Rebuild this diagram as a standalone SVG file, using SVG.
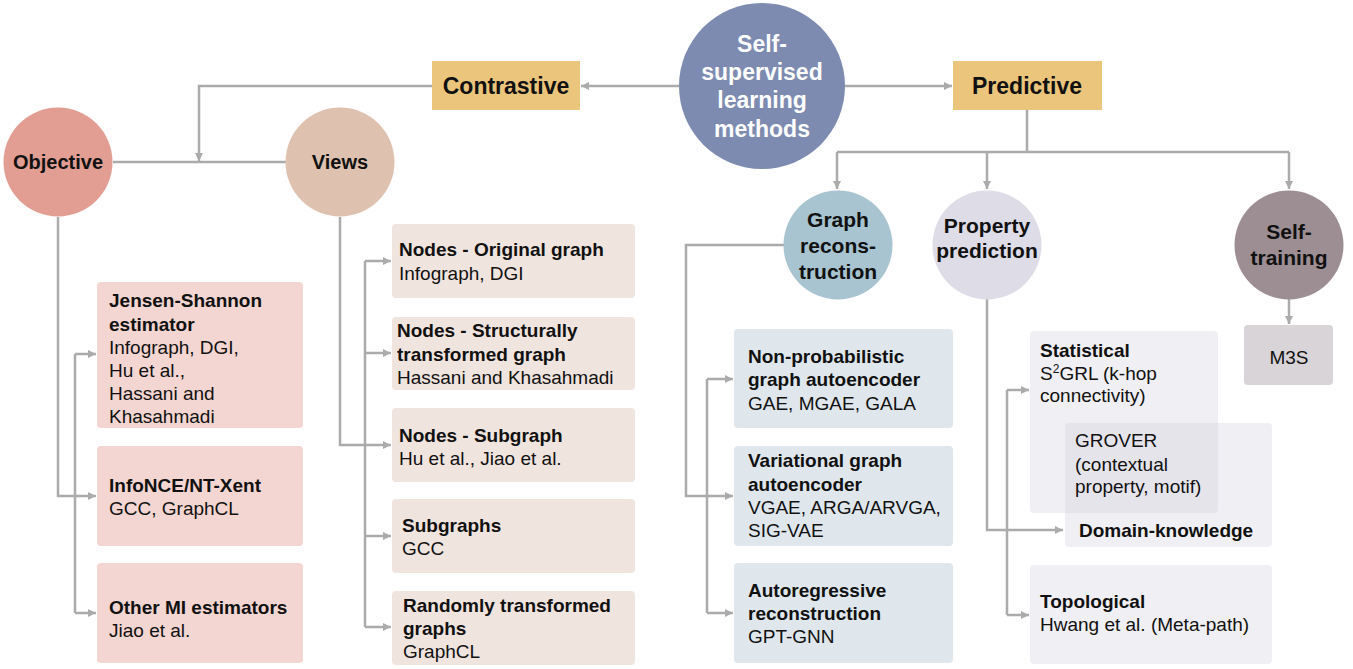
<svg xmlns="http://www.w3.org/2000/svg" width="1353" height="669" viewBox="0 0 1353 669">
<defs>
<marker id="ah" markerUnits="userSpaceOnUse" markerWidth="10" markerHeight="10" refX="8" refY="4" orient="auto">
<path d="M0,0 L8,4 L0,8 z" fill="#ababab"/>
</marker>
<style>
.c{fill:none;stroke:#ababab;stroke-width:2.5}
.a{fill:none;stroke:#ababab;stroke-width:2.5;marker-end:url(#ah)}
text{font-family:"Liberation Sans",Arial,sans-serif;fill:#111}
.t{font-size:19px}
.b{font-weight:bold}
.h{font-size:23px;font-weight:bold}
.n{font-size:21px;font-weight:bold;text-anchor:middle}
.pb{fill:#f3d6d2}
.vb{fill:#f0e4df}
.gb{fill:#e0e7ec}
.lb{fill:#d0cedc;fill-opacity:0.33}
</style>
</defs>
<rect width="1353" height="669" fill="#ffffff"/>

<g id="connectors">
<path class="a" d="M679,86 L581,86"/>
<path class="a" d="M432,86 L199,86 L199,161"/>
<path class="c" d="M113,162 L286,162"/>
<path class="a" d="M58,217 L58,496 L96,496"/>
<path class="c" d="M75,354 L75,613"/>
<path class="a" d="M75,354 L96,354"/>
<path class="a" d="M75,613 L96,613"/>
<path class="a" d="M340,217 L340,445 L391,445"/>
<path class="c" d="M365,261 L365,627"/>
<path class="a" d="M365,261 L391,261"/>
<path class="a" d="M365,353 L391,353"/>
<path class="a" d="M365,536 L391,536"/>
<path class="a" d="M365,627 L391,627"/>
<path class="a" d="M845,86 L952,86"/>
<path class="c" d="M1027,110 L1027,152"/>
<path class="c" d="M837,152 L1289,152"/>
<path class="a" d="M837,152 L837,189"/>
<path class="a" d="M987,152 L987,189"/>
<path class="a" d="M1289,152 L1289,189"/>
<path class="a" d="M784,245 L686,245 L686,496 L733,496"/>
<path class="c" d="M707,379 L707,613"/>
<path class="a" d="M707,379 L733,379"/>
<path class="a" d="M707,613 L733,613"/>
<path class="a" d="M987,299 L987,530 L1063,530"/>
<path class="c" d="M1007,390 L1007,615"/>
<path class="a" d="M1007,390 L1029,390"/>
<path class="a" d="M1007,615 L1029,615"/>
<path class="a" d="M1289,299 L1289,324"/>
</g>

<g id="ssl">
<circle cx="762" cy="86" r="83" fill="#7c8baf"/>
<text class="n" x="762" y="52" style="fill:#fff;font-size:23px">Self-</text>
<text class="n" x="762" y="80" style="fill:#fff;font-size:23px">supervised</text>
<text class="n" x="762" y="108" style="fill:#fff;font-size:23px">learning</text>
<text class="n" x="762" y="137" style="fill:#fff;font-size:23px">methods</text>
</g>

<g id="contrastive">
<rect x="432" y="61" width="148" height="49" fill="#ebc57b"/>
<text class="h" x="506" y="94" text-anchor="middle">Contrastive</text>
</g>

<g id="predictive">
<rect x="953" y="61" width="149" height="49" fill="#ebc57b"/>
<text class="h" x="1027" y="94" text-anchor="middle">Predictive</text>
</g>

<g id="objective">
<circle cx="58" cy="162" r="54.5" fill="#e29e93"/>
<text class="n" x="58" y="169" style="font-size:20px">Objective</text>
</g>

<g id="views">
<circle cx="340" cy="162" r="54.5" fill="#dec2af"/>
<text class="n" x="340" y="169" style="font-size:20px">Views</text>
</g>

<g id="js">
<rect class="pb" x="97" y="282" width="206" height="146" rx="4"/>
<text class="t b" x="109" y="307">Jensen-Shannon</text>
<text class="t b" x="109" y="331">estimator</text>
<text class="t" x="109" y="354">Infograph, DGI,</text>
<text class="t" x="109" y="377">Hu et al.,</text>
<text class="t" x="109" y="400">Hassani and</text>
<text class="t" x="109" y="423">Khasahmadi</text>
</g>

<g id="infonce">
<rect class="pb" x="97" y="446" width="206" height="100" rx="4"/>
<text class="t b" x="109" y="492">InfoNCE/NT-Xent</text>
<text class="t" x="109" y="515">GCC, GraphCL</text>
</g>

<g id="othermi">
<rect class="pb" x="97" y="563" width="206" height="100" rx="4"/>
<text class="t b" x="109" y="614">Other MI estimators</text>
<text class="t" x="109" y="637">Jiao et al.</text>
</g>

<g id="v1">
<rect class="vb" x="392" y="224" width="243" height="74" rx="4"/>
<text class="t b" x="399" y="256">Nodes - Original graph</text>
<text class="t" x="399" y="280">Infograph, DGI</text>
</g>

<g id="v2">
<rect class="vb" x="392" y="317" width="243" height="73" rx="4"/>
<text class="t b" x="397" y="337">Nodes - Structurally</text>
<text class="t b" x="397" y="361">transformed graph</text>
<text class="t" x="397" y="384">Hassani and Khasahmadi</text>
</g>

<g id="v3">
<rect class="vb" x="392" y="408" width="243" height="74" rx="4"/>
<text class="t b" x="399" y="442">Nodes - Subgraph</text>
<text class="t" x="399" y="465">Hu et al., Jiao et al.</text>
</g>

<g id="v4">
<rect class="vb" x="392" y="499" width="243" height="74" rx="4"/>
<text class="t b" x="402" y="532">Subgraphs</text>
<text class="t" x="402" y="555">GCC</text>
</g>

<g id="v5">
<rect class="vb" x="392" y="591" width="243" height="74" rx="4"/>
<text class="t b" x="403" y="612">Randomly transformed</text>
<text class="t b" x="403" y="635">graphs</text>
<text class="t" x="403" y="658">GraphCL</text>
</g>

<g id="graphrecon">
<circle cx="838" cy="245" r="54.5" fill="#a7c4d0"/>
<text class="n" x="838" y="227">Graph</text>
<text class="n" x="838" y="253">recons-</text>
<text class="n" x="838" y="279">truction</text>
</g>

<g id="property">
<circle cx="987" cy="245" r="54.5" fill="#dddce7"/>
<text class="n" x="987" y="233">Property</text>
<text class="n" x="987" y="258">prediction</text>
</g>

<g id="selftraining">
<circle cx="1289" cy="245" r="54.5" fill="#9d8e93"/>
<text class="n" x="1289" y="239">Self-</text>
<text class="n" x="1289" y="265">training</text>
</g>

<g id="g1">
<rect class="gb" x="734" y="329" width="219" height="99" rx="4"/>
<text class="t b" x="748" y="363">Non-probabilistic</text>
<text class="t b" x="748" y="386">graph autoencoder</text>
<text class="t" x="748" y="410">GAE, MGAE, GALA</text>
</g>

<g id="g2">
<rect class="gb" x="734" y="446" width="219" height="100" rx="4"/>
<text class="t b" x="748" y="467">Variational graph</text>
<text class="t b" x="748" y="491">autoencoder</text>
<text class="t" x="748" y="514">VGAE, ARGA/ARVGA,</text>
<text class="t" x="748" y="537">SIG-VAE</text>
</g>

<g id="g3">
<rect class="gb" x="734" y="563" width="219" height="100" rx="4"/>
<text class="t b" x="748" y="597">Autoregressive</text>
<text class="t b" x="748" y="620">reconstruction</text>
<text class="t" x="748" y="643">GPT-GNN</text>
</g>

<g id="statistical">
<rect class="lb" x="1030" y="331" width="188" height="182" rx="4"/>
<text class="t b" x="1040" y="357">Statistical</text>
<text class="t" x="1040" y="380">S<tspan font-size="12" dy="-7">2</tspan><tspan dy="7">GRL (k-hop</tspan></text>
<text class="t" x="1040" y="402">connectivity)</text>
</g>

<g id="domain">
<rect class="lb" x="1065" y="423" width="207" height="124" rx="4"/>
<text class="t" x="1075" y="447">GROVER</text>
<text class="t" x="1075" y="471">(contextual</text>
<text class="t" x="1075" y="493">property, motif)</text>
<text class="t b" x="1079" y="537">Domain-knowledge</text>
</g>

<g id="topological">
<rect class="lb" x="1030" y="565" width="242" height="99" rx="4"/>
<text class="t b" x="1040" y="608">Topological</text>
<text class="t" x="1040" y="631">Hwang et al. (Meta-path)</text>
</g>

<g id="m3s">
<rect x="1244" y="325" width="89" height="60" rx="4" fill="#d9d4d7"/>
<text class="t" x="1289" y="364" text-anchor="middle">M3S</text>
</g>
</svg>
